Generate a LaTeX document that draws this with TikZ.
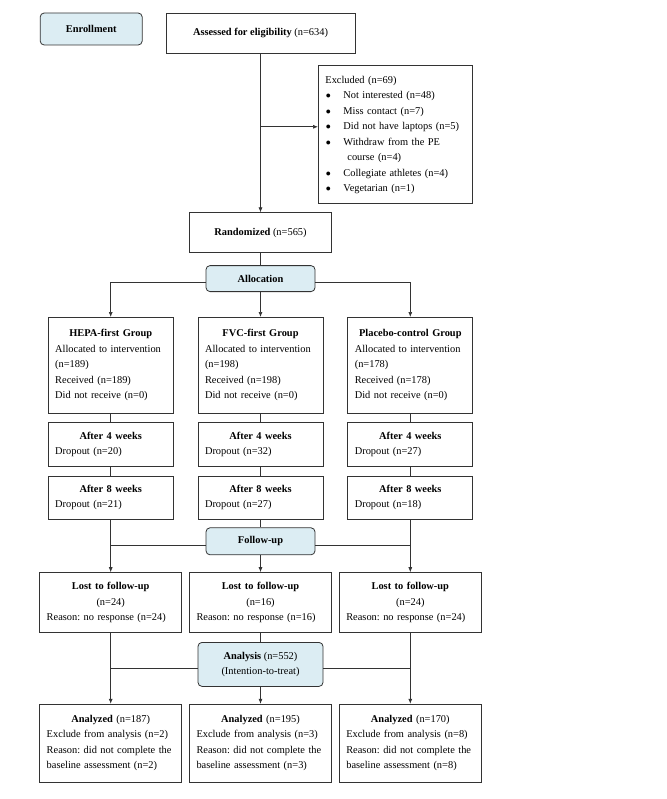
\documentclass[tikz,border=0pt]{standalone}
\usepackage{fontspec}
\setmainfont{Liberation Serif}
\usetikzlibrary{arrows.meta, positioning, calc}
\definecolor{edge}{HTML}{333333}
\definecolor{stagebg}{HTML}{DCEDF3}
\newcommand{\exitem}{\makebox[18pt][l]{\hspace{0.5pt}$\bullet$}}
\frenchspacing

\begin{document}
\begin{tikzpicture}[
  font=\fontsize{10.4}{15.5}\selectfont,
  box/.style={draw=edge, line width=0.8pt, inner xsep=7pt, inner ysep=2pt, align=left},
  stage/.style={draw=edge, fill=stagebg, rounded corners=4pt, line width=0.8pt,
                inner sep=2pt, align=center, font=\fontsize{10.4}{15.5}\selectfont\bfseries},
  group/.style={box, text width=111pt, minimum height=96pt},
  wide/.style={box, text width=128pt},
  arr/.style={-{Latex[length=5pt, width=4pt]}, draw=edge, line width=0.7pt},
  link/.style={draw=edge, line width=0.7pt}
]
  \useasboundingbox (0pt,0pt) rectangle (666pt,-799pt);

  % Enrollment
  \node[box, align=center, minimum width=189pt, minimum height=40pt] (assess)
    at (260.5pt,-33pt) {\textbf{Assessed for eligibility} (n=634)};
  \node[stage, minimum width=102pt, minimum height=32pt,
        left=23pt of assess.north west, anchor=north east] (enroll) {Enrollment};
  \node[box, text width=140pt, minimum height=138pt, anchor=north west]
    (excluded) at ([xshift=57.5pt, yshift=-12pt]assess.south)
    {Excluded (n=69)\\
     \exitem Not interested (n=48)\\
     \exitem Miss contact (n=7)\\
     \exitem Did not have laptops (n=5)\\
     \exitem Withdraw from the PE\\
     \hspace{22pt}course (n=4)\\
     \exitem Collegiate athletes (n=4)\\
     \exitem Vegetarian (n=1)};
  \node[box, align=center, minimum width=142pt, minimum height=40pt,
        below=159pt of assess] (random) {\textbf{Randomized} (n=565)};

  % Allocation
  \node[stage, minimum width=109pt, minimum height=26pt, below=12pt of random] (alloc) {Allocation};
  \node[group, below=25pt of alloc] (fvc)
    {{\centering\textbf{FVC-first Group}\par}
     Allocated to intervention\\(n=198)\\Received (n=198)\\Did not receive (n=0)};
  \node[group, left=24pt of fvc] (hepa)
    {{\centering\textbf{HEPA-first Group}\par}
     Allocated to intervention\\(n=189)\\Received (n=189)\\Did not receive (n=0)};
  \node[group, right=24pt of fvc] (placebo)
    {{\centering\textbf{Placebo-control Group}\par}
     Allocated to intervention\\(n=178)\\Received (n=178)\\Did not receive (n=0)};

  % Weeks
  \node[group, minimum height=44pt, below=8pt of hepa] (hepafour)
    {{\centering\textbf{After 4 weeks}\par}Dropout (n=20)};
  \node[group, minimum height=44pt, below=8pt of fvc] (fvcfour)
    {{\centering\textbf{After 4 weeks}\par}Dropout (n=32)};
  \node[group, minimum height=44pt, below=8pt of placebo] (placebofour)
    {{\centering\textbf{After 4 weeks}\par}Dropout (n=27)};
  \node[group, minimum height=43pt, below=9pt of hepafour] (hepaeight)
    {{\centering\textbf{After 8 weeks}\par}Dropout (n=21)};
  \node[group, minimum height=43pt, below=9pt of fvcfour] (fvceight)
    {{\centering\textbf{After 8 weeks}\par}Dropout (n=27)};
  \node[group, minimum height=43pt, below=9pt of placebofour] (placeboeight)
    {{\centering\textbf{After 8 weeks}\par}Dropout (n=18)};

  % Follow-up
  \node[stage, minimum width=109pt, minimum height=27pt, below=8pt of fvceight] (follow) {Follow-up};
  \node[wide, minimum height=60pt, below=17pt of follow] (fvclost)
    {{\centering\textbf{Lost to follow-up}\\(n=16)\par}Reason: no response (n=16)};
  \node[wide, minimum height=60pt, left=7pt of fvclost] (hepalost)
    {{\centering\textbf{Lost to follow-up}\\(n=24)\par}Reason: no response (n=24)};
  \node[wide, minimum height=60pt, right=7pt of fvclost] (placebolost)
    {{\centering\textbf{Lost to follow-up}\\(n=24)\par}Reason: no response (n=24)};

  % Analysis
  \node[stage, font=\fontsize{10.4}{15.5}\selectfont, minimum width=125pt, minimum height=44pt,
        below=9pt of fvclost] (analysis) {\textbf{Analysis} (n=552)\\(Intention-to-treat)};
  \node[wide, minimum height=78pt, below=17pt of analysis] (fvcdone)
    {{\centering\textbf{Analyzed} (n=195)\par}Exclude from analysis (n=3)\\
     Reason: did not complete the\\baseline assessment (n=3)};
  \node[wide, minimum height=78pt, left=7pt of fvcdone] (hepadone)
    {{\centering\textbf{Analyzed} (n=187)\par}Exclude from analysis (n=2)\\
     Reason: did not complete the\\baseline assessment (n=2)};
  \node[wide, minimum height=78pt, right=7pt of fvcdone] (placebodone)
    {{\centering\textbf{Analyzed} (n=170)\par}Exclude from analysis (n=8)\\
     Reason: did not complete the\\baseline assessment (n=8)};

  % Arrows
  \draw[arr] (assess) -- (random);
  \draw[arr] ([yshift=8pt]excluded.west -| assess.south) -- ([yshift=8pt]excluded.west);
  \draw[link] (random) -- (alloc);
  \draw[arr] ([yshift=-4pt]alloc.west) -| (hepa);
  \draw[arr] ([yshift=-4pt]alloc.east) -| (placebo);
  \draw[arr] (alloc) -- (fvc);

  \draw[link] (hepa) -- (hepafour);
  \draw[link] (fvc) -- (fvcfour);
  \draw[link] (placebo) -- (placebofour);
  \draw[link] (hepafour) -- (hepaeight);
  \draw[link] (fvcfour) -- (fvceight);
  \draw[link] (placebofour) -- (placeboeight);

  \draw[arr] (hepaeight) -- (hepalost);
  \draw[arr] (placeboeight) -- (placebolost);
  \draw[link] (fvceight) -- (follow);
  \draw[arr] (follow) -- (fvclost);
  \draw[link] ([yshift=-4pt]follow.west) -- ([yshift=-4pt]follow.west -| hepaeight.south);
  \draw[link] ([yshift=-4pt]follow.east) -- ([yshift=-4pt]follow.east -| placeboeight.south);

  \draw[arr] (hepalost) -- (hepadone);
  \draw[arr] (placebolost) -- (placebodone);
  \draw[link] (fvclost) -- (analysis);
  \draw[arr] (analysis) -- (fvcdone);
  \draw[link] ([yshift=-4pt]analysis.west) -- ([yshift=-4pt]analysis.west -| hepalost.south);
  \draw[link] ([yshift=-4pt]analysis.east) -- ([yshift=-4pt]analysis.east -| placebolost.south);
\end{tikzpicture}
\end{document}
